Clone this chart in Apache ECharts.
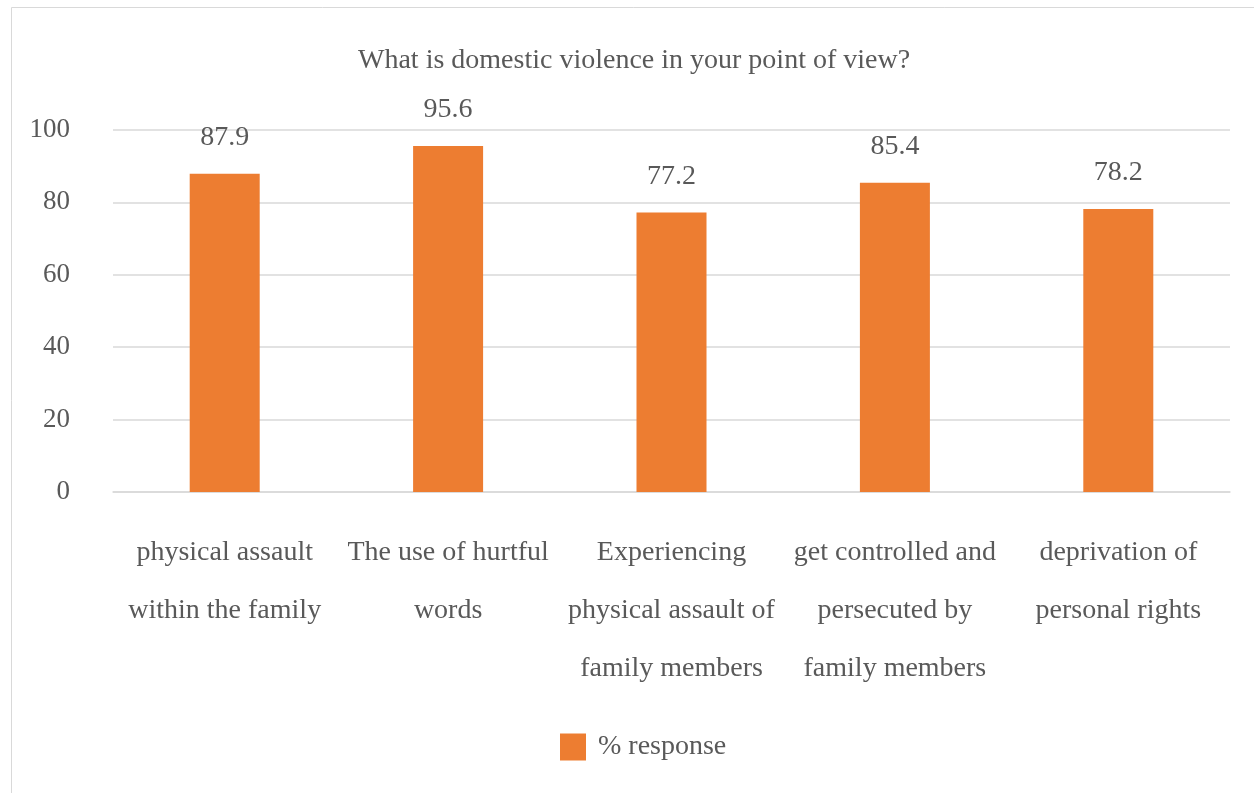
<!DOCTYPE html>
<html>
<head>
<meta charset="utf-8">
<script src="https://cdn.jsdelivr.net/npm/echarts@6/dist/echarts.min.js"></script>
<style>
  html, body { margin: 0; padding: 0; background: #fff; }
  #chart { width: 1254px; height: 793px; }
</style>
</head>
<body>
<div id="chart"></div>
<script>
const titleText = 'What is domestic violence in your point of view?';
const seriesName = '% response';
const categories = [
  'physical assault\nwithin the family',
  'The use of hurtful\nwords',
  'Experiencing\nphysical assault of\nfamily members',
  'get controlled and\npersecuted by\nfamily members',
  'deprivation of\npersonal rights'
];
const responses = [87.9, 95.6, 77.2, 85.4, 78.2];

const FONT = '"Liberation Serif", "Times New Roman", serif';
const TEXT = '#595959';
const ORANGE = '#ED7D31';

const chart = echarts.init(document.getElementById('chart'), null, { renderer: 'canvas' });
chart.setOption({
  animation: false,
  backgroundColor: '#fff',
  graphic: [{
    type: 'rect',
    shape: { x: 11.5, y: 7.5, width: 1300, height: 900 },
    style: { fill: 'none', stroke: '#d9d9d9', lineWidth: 1 },
    silent: true
  }],
  title: {
    text: titleText,
    left: 353,
    top: 42,
    textStyle: { fontFamily: FONT, fontSize: 28, fontWeight: 'normal', color: TEXT }
  },
  legend: {
    top: 733,
    left: 560,
    padding: 0,
    itemWidth: 26,
    itemHeight: 27,
    icon: 'rect',
    textStyle: { fontFamily: FONT, fontSize: 28, color: TEXT, padding: [0, 0, 0, 7] }
  },
  grid: { left: 113, right: 24, top: 130, bottom: 301, containLabel: false },
  xAxis: {
    type: 'category',
    data: categories,
    axisLine: { show: true, lineStyle: { color: '#d9d9d9', width: 1.5 } },
    axisTick: { show: false },
    axisLabel: {
      interval: 0,
      margin: 32,
      fontFamily: FONT,
      fontSize: 28,
      lineHeight: 58,
      color: TEXT
    }
  },
  yAxis: {
    type: 'value',
    min: 0,
    max: 100,
    interval: 20,
    axisLine: { show: false },
    axisTick: { show: false },
    splitLine: { lineStyle: { color: '#d9d9d9', width: 1.5 } },
    axisLabel: { margin: 43, fontFamily: FONT, fontSize: 27, color: TEXT }
  },
  series: [{
    name: seriesName,
    type: 'bar',
    data: responses,
    barWidth: 70,
    itemStyle: { color: ORANGE },
    label: {
      show: true,
      position: 'top',
      distance: 22,
      fontFamily: FONT,
      fontSize: 28,
      color: TEXT
    }
  }]
});
</script>
</body>
</html>
